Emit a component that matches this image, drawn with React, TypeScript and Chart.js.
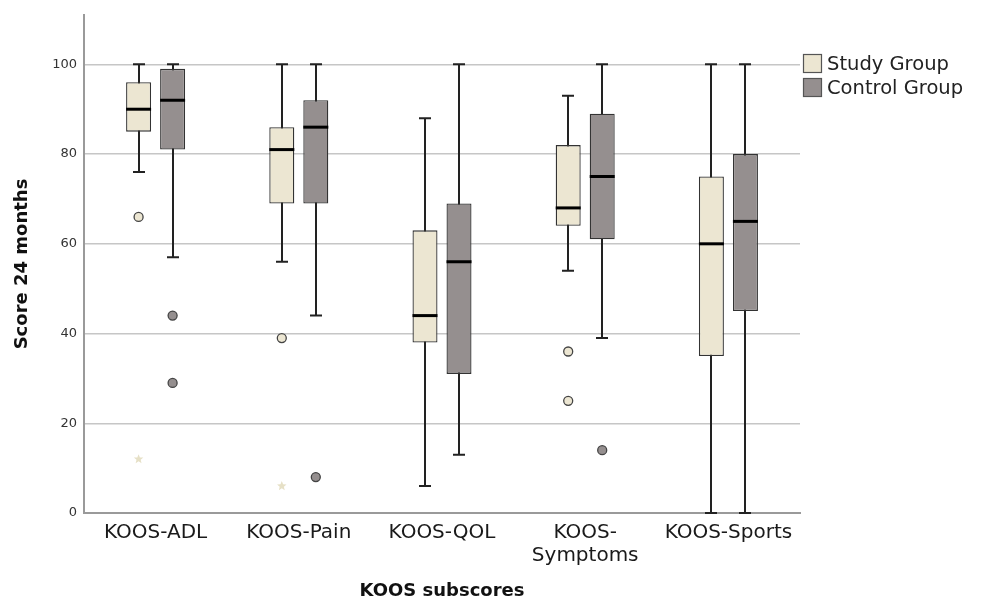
import React, { useEffect, useRef } from 'react';
import { Chart, registerables } from 'chart.js';

Chart.register(...registerables);

// ---- Data ----
const categories: (string | string[])[] = ['KOOS-ADL', 'KOOS-Pain', 'KOOS-QOL', ['KOOS-', 'Symptoms'], 'KOOS-Sports'];
const seriesNames = ['Study Group', 'Control Group'];

const studyMin = [76, 56, 6, 54, 0];
const studyQ1 = [85, 69, 38, 64, 35];
const studyMedian = [90, 81, 44, 68, 60];
const studyQ3 = [96, 86, 63, 82, 75];
const studyMax = [100, 100, 88, 93, 100];
const studyOutliers = [[66], [39], [], [36, 25], []];
const studyExtremes = [[12], [6], [], [], []];

const controlMin = [57, 44, 13, 39, 0];
const controlQ1 = [81, 69, 31, 61, 45];
const controlMedian = [92, 86, 56, 75, 65];
const controlQ3 = [99, 92, 69, 89, 80];
const controlMax = [100, 100, 100, 100, 100];
const controlOutliers = [[44, 29], [8], [], [14], []];
const controlExtremes = [[], [], [], [], []];

const yTicks = [0, 20, 40, 60, 80, 100];

const STUDY_FILL = '#ece6d2';
const CONTROL_FILL = '#958f8f';
const FONT = '"DejaVu Sans", sans-serif';

const groups = [
  { min: studyMin, q1: studyQ1, med: studyMedian, q3: studyQ3, max: studyMax, out: studyOutliers, ext: studyExtremes, fill: STUDY_FILL },
  { min: controlMin, q1: controlQ1, med: controlMedian, q3: controlQ3, max: controlMax, out: controlOutliers, ext: controlExtremes, fill: CONTROL_FILL },
];

function drawStar(ctx: CanvasRenderingContext2D, cx: number, cy: number, r: number, r2: number) {
  ctx.beginPath();
  for (let k = 0; k < 10; k++) {
    const rad = k % 2 === 0 ? r : r2;
    const a = -Math.PI / 2 + (k * Math.PI) / 5;
    const px = cx + rad * Math.cos(a);
    const py = cy + rad * Math.sin(a);
    if (k === 0) ctx.moveTo(px, py);
    else ctx.lineTo(px, py);
  }
  ctx.closePath();
  ctx.fill();
}

const boxPlugin = {
  id: 'boxplotExtras',
  beforeDatasetsDraw(chart: any) {
    const { ctx, scales } = chart;
    const y = scales.y;
    ctx.save();
    ctx.strokeStyle = '#222';
    ctx.lineWidth = 2;
    groups.forEach((g, d) => {
      const meta = chart.getDatasetMeta(d);
      meta.data.forEach((bar: any, i: number) => {
        const x = Math.round(bar.x);
        const yMin = y.getPixelForValue(g.min[i]);
        const yMax = y.getPixelForValue(g.max[i]);
        ctx.beginPath();
        ctx.moveTo(x, yMin);
        ctx.lineTo(x, yMax);
        ctx.moveTo(x - 6, yMin);
        ctx.lineTo(x + 6, yMin);
        ctx.moveTo(x - 6, yMax);
        ctx.lineTo(x + 6, yMax);
        ctx.stroke();
      });
    });
    ctx.restore();
  },
  afterDatasetsDraw(chart: any) {
    const { ctx, scales } = chart;
    const y = scales.y;
    ctx.save();
    groups.forEach((g, d) => {
      const meta = chart.getDatasetMeta(d);
      meta.data.forEach((bar: any, i: number) => {
        const x = bar.x;
        const w = bar.width;
        // median
        ctx.strokeStyle = '#000';
        ctx.lineWidth = 3;
        ctx.beginPath();
        const ym = y.getPixelForValue(g.med[i]);
        ctx.moveTo(x - w / 2, ym);
        ctx.lineTo(x + w / 2, ym);
        ctx.stroke();
        // outliers
        g.out[i].forEach((v: number) => {
          ctx.beginPath();
          ctx.arc(x, y.getPixelForValue(v), 4.5, 0, Math.PI * 2);
          ctx.fillStyle = g.fill;
          ctx.fill();
          ctx.lineWidth = 1.3;
          ctx.strokeStyle = '#444';
          ctx.stroke();
        });
        // extremes
        g.ext[i].forEach((v: number) => {
          ctx.fillStyle = '#e6e0c6';
          drawStar(ctx, x, y.getPixelForValue(v), 5, 2.2);
        });
      });
    });
    ctx.restore();
  },
  afterDraw(chart: any) {
    const { ctx } = chart;
    ctx.save();
    const lx = 803;
    const ly = 54;
    const size = 19;
    const step = 24;
    ctx.font = `19.5px ${FONT}`;
    ctx.textBaseline = 'middle';
    ctx.textAlign = 'left';
    groups.forEach((g, d) => {
      const top = ly + d * step;
      ctx.fillStyle = g.fill;
      ctx.fillRect(lx, top, size, size);
      ctx.strokeStyle = '#555';
      ctx.lineWidth = 1.2;
      ctx.strokeRect(lx + 0.5, top + 0.5, size - 1, size - 1);
      ctx.fillStyle = '#222';
      ctx.fillText(seriesNames[d], lx + size + 5, top + size / 2 + 1);
    });
    ctx.restore();
  },
};

export default function App() {
  const ref = useRef<HTMLCanvasElement>(null);
  useEffect(() => {
    if (!ref.current) return;
    const chart = new Chart(ref.current, {
      type: 'bar',
      data: {
        labels: categories as any,
        datasets: [
          {
            label: seriesNames[0],
            data: studyQ1.map((q, i) => [q, studyQ3[i]]) as any,
            backgroundColor: STUDY_FILL,
            borderColor: '#333',
            borderWidth: 1.3,
            borderSkipped: false,
          },
          {
            label: seriesNames[1],
            data: controlQ1.map((q, i) => [q, controlQ3[i]]) as any,
            backgroundColor: CONTROL_FILL,
            borderColor: '#333',
            borderWidth: 1.3,
            borderSkipped: false,
          },
        ],
      },
      options: {
        responsive: true,
        maintainAspectRatio: false,
        animation: false,
        events: [],
        categoryPercentage: 0.475,
        barPercentage: 0.735,
        layout: { padding: { left: 0, top: 15, right: 182, bottom: 0 } },
        plugins: {
          legend: { display: false },
          tooltip: { enabled: false },
        },
        scales: {
          x: {
            grid: { display: false },
            border: { display: true, color: '#9a9a9a', width: 2 },
            ticks: {
              color: '#1a1a1a',
              font: { family: FONT, size: 20, lineHeight: 1.12 },
              padding: 1,
              maxRotation: 0,
              autoSkip: false,
            },
            title: {
              display: true,
              text: 'KOOS subscores',
              color: '#111',
              font: { family: FONT, size: 18, weight: 'bold', lineHeight: 1 },
              padding: { top: 0, bottom: 0 },
            },
            afterFit: (scale: any) => {
              scale.height = 87;
            },
          },
          y: {
            min: 0,
            max: 111,
            afterBuildTicks: (scale: any) => {
              scale.ticks = yTicks.map((v) => ({ value: v }));
            },
            grid: { color: '#c6c6c6', lineWidth: 1.5, drawTicks: false },
            border: { display: true, color: '#9a9a9a', width: 2 },
            ticks: {
              color: '#333',
              font: { family: FONT, size: 13 },
              padding: 7,
            },
            title: {
              display: true,
              text: 'Score 24 months',
              color: '#111',
              font: { family: FONT, size: 18, weight: 'bold', lineHeight: 1.2 },
              padding: { top: 12, bottom: 0 },
            },
            afterFit: (scale: any) => {
              scale.width = 84;
            },
          },
        },
      },
      plugins: [boxPlugin],
    } as any);
    return () => chart.destroy();
  }, []);
  return (
    <div style={{ position: 'absolute', left: 0, top: 0, width: 982, height: 600 }}>
      <canvas ref={ref} />
    </div>
  );
}
